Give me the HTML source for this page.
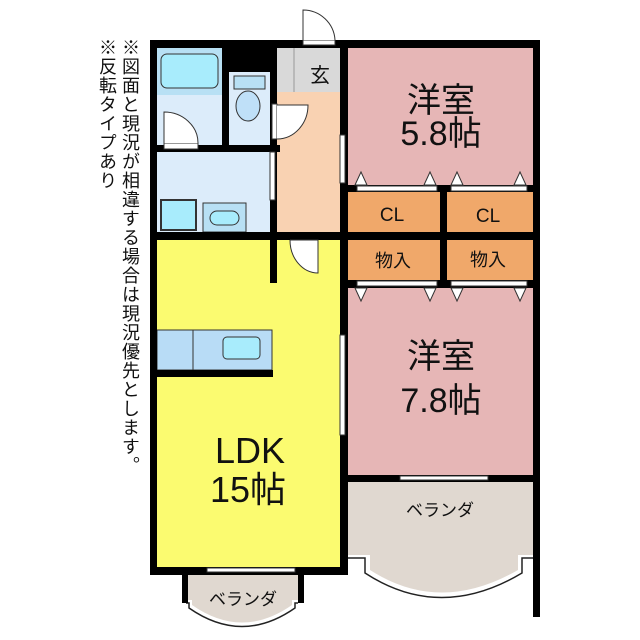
<!DOCTYPE html>
<html><head><meta charset="utf-8"><style>
html,body{margin:0;padding:0;background:#fff;width:640px;height:640px;overflow:hidden}
.v{position:absolute;writing-mode:vertical-rl;font-family:"Liberation Sans","Noto Sans CJK JP",sans-serif;font-size:18px;line-height:20px;color:#111;letter-spacing:1px}
</style></head><body>
<div class="v" style="left:120px;top:38px">※図面と現況が相違する場合は現況優先とします。</div>
<div class="v" style="left:97px;top:38px">※反転タイプあり</div>
<svg width="640" height="640" style="position:absolute;left:0;top:0" font-family="Liberation Sans, Noto Sans CJK JP, sans-serif">
<rect x="157" y="48" width="65" height="97" fill="#dcecfa"/>
<rect x="157" y="48" width="65" height="47" fill="#b8e0f4"/>
<rect x="161" y="54" width="57" height="34" rx="6" fill="#a8ecfc" stroke="#333"/>
<rect x="222" y="48" width="55" height="24" fill="#000"/>
<rect x="229" y="72" width="41" height="73" fill="#dcecfa"/>
<rect x="234" y="76" width="31" height="13" fill="#b8e0f4" stroke="#333"/>
<ellipse cx="248" cy="106" rx="12" ry="15" fill="#bfe0f8" stroke="#333"/>
<rect x="157" y="152" width="113" height="80" fill="#dcecfa"/>
<rect x="161" y="200" width="35" height="30" fill="#a8ecfc" stroke="#333" stroke-width="2"/>
<rect x="203" y="203" width="43" height="29" fill="#b8e0f4" stroke="#333"/>
<rect x="210" y="211" width="29" height="14" rx="7" fill="#a8ecfc" stroke="#333"/>
<rect x="277" y="48" width="63" height="184" fill="#f9d2b2"/>
<rect x="277" y="48" width="63" height="44" fill="#d9d9d9"/>
<line x1="294" y1="48" x2="294" y2="92" stroke="#999"/>
<text x="320" y="82" font-size="20" text-anchor="middle" fill="#111">玄</text>
<rect x="157" y="240" width="183" height="327" fill="#fbfb70"/>
<rect x="157" y="330" width="115" height="40" fill="#b8dcf6" stroke="#333"/>
<line x1="193" y1="330" x2="193" y2="370" stroke="#333"/>
<rect x="223" y="337" width="37" height="22" rx="4" fill="#a8ecfc" stroke="#333"/>
<rect x="348" y="48" width="185" height="137" fill="#e6b6b6"/>
<rect x="348" y="192" width="185" height="40" fill="#f0a86a"/>
<rect x="348" y="240" width="185" height="40" fill="#f0a86a"/>
<rect x="348" y="288" width="185" height="187" fill="#e6b6b6"/>
<path d="M348 482 H533 V555 H518 V570 Q440 615 370 570 V555 H348 Z" fill="#e0d8d0"/>
<path d="M348 558 H365 V573 Q440 622 522 573 V558 H533" fill="none" stroke="#222" stroke-width="1.5"/>
<path d="M186 575 H298 V600 H292 V605 Q242 640 192 605 V600 H186 Z" fill="#e0d8d0"/>
<path d="M186 603 H189 V608 Q242 645 295 608 V603 H298" fill="none" stroke="#222" stroke-width="1.5"/>
<g fill="#000">
<rect x="150" y="40" width="390" height="8"/>
<rect x="150" y="40" width="7" height="535"/>
<rect x="533" y="40" width="7" height="577"/>
<rect x="222" y="48" width="7" height="97"/>
<rect x="150" y="145" width="130" height="7"/>
<rect x="270" y="48" width="7" height="184"/>
<rect x="340" y="48" width="8" height="527"/>
<rect x="150" y="232" width="390" height="8"/>
<rect x="270" y="240" width="7" height="43"/>
<rect x="150" y="370" width="123" height="7"/>
<rect x="150" y="567" width="198" height="8"/>
<rect x="348" y="185" width="185" height="7"/>
<rect x="348" y="280" width="185" height="8"/>
<rect x="440" y="192" width="7" height="96"/>
<rect x="348" y="475" width="185" height="7"/>
<rect x="182" y="575" width="6" height="28"/>
<rect x="298" y="575" width="6" height="28"/>
</g>
<g fill="#fff" stroke="#333">
<rect x="303" y="40" width="32" height="5"/>
<path d="M303 40 V10 A32 32 0 0 1 335 40"/>
<rect x="164" y="143" width="34" height="6"/>
<path d="M164 143 V112 A34 31 0 0 1 198 143"/>
<rect x="272" y="104" width="5" height="35"/>
<path d="M277 105 H308 A31 34 0 0 1 277 139"/>
<path d="M290 240 H318 V273 A28 33 0 0 1 290 240"/>
<rect x="270" y="152" width="5" height="48"/>
<rect x="340" y="135" width="5" height="48"/>
<rect x="340" y="335" width="5" height="100"/>
<rect x="357" y="186" width="80" height="5"/>
<rect x="451" y="186" width="76" height="5"/>
<rect x="357" y="281" width="80" height="5"/>
<rect x="451" y="281" width="76" height="5"/>
<rect x="400" y="476" width="88" height="4"/>
<rect x="207" y="568" width="88" height="4"/>
<path d="M355 185 L361 172 L367 185Z M424 185 L430 172 L436 185Z M451 185 L457 172 L463 185Z M514 185 L520 172 L526 185Z"/>
<path d="M355 288 L361 301 L367 288Z M424 288 L430 301 L436 288Z M451 288 L457 301 L463 288Z M514 288 L520 301 L526 288Z"/>
</g>
<g fill="#111" text-anchor="middle">
<text x="441" y="112" font-size="34">洋室</text>
<text x="441" y="145" font-size="34">5.8帖</text>
<text x="441" y="368" font-size="34">洋室</text>
<text x="441" y="412" font-size="34">7.8帖</text>
<text x="250" y="463" font-size="36">LDK</text>
<text x="248" y="502" font-size="36">15帖</text>
<text x="392" y="221" font-size="19">CL</text>
<text x="488" y="222" font-size="19">CL</text>
<text x="393" y="267" font-size="18">物入</text>
<text x="488" y="266" font-size="18">物入</text>
<text x="440" y="516" font-size="17">ベランダ</text>
<text x="243" y="605" font-size="17">ベランダ</text>
</g>
</svg>
</body></html>
